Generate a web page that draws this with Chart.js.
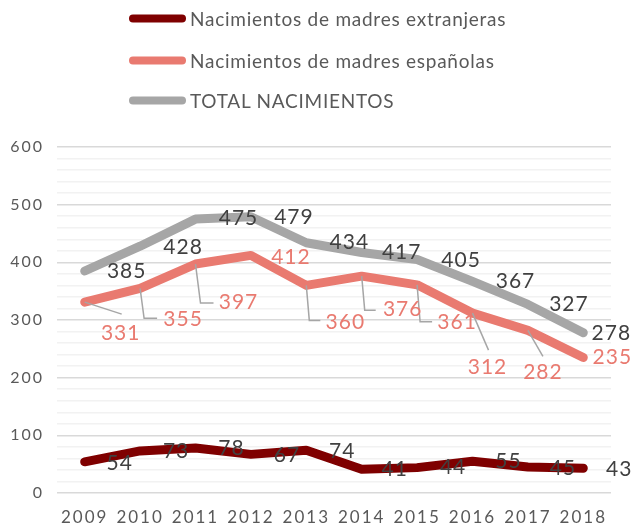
<!DOCTYPE html>
<html>
<head>
<meta charset="utf-8">
<script src="https://cdn.jsdelivr.net/npm/chart.js@4"></script>
<style>
  html, body { margin: 0; padding: 0; background: #fff; }
  #wrap { position: relative; width: 635px; height: 526px; }
  #legend { position: absolute; left: 129px; top: 0; font-family: 'Lato', sans-serif; font-size: 19px; letter-spacing: 0.75px; color: #595959; }
  .item { position: absolute; left: 0; display: flex; align-items: center; white-space: nowrap; transform: translateY(-50%); }
  .swatch { width: 57px; height: 8px; border-radius: 4px; margin-right: 4px; }
</style>
</head>
<body>
<div id="wrap">
  <canvas id="chart" width="635" height="526"></canvas>
  <div id="legend"></div>
</div>
<script>
// data
const years = ['2009', '2010', '2011', '2012', '2013', '2014', '2015', '2016', '2017', '2018'];
const extranjeras = [54, 73, 78, 67, 74, 41, 44, 55, 45, 43];
const espanolas = [331, 355, 397, 412, 360, 376, 361, 312, 282, 235];
const total = [385, 428, 475, 479, 434, 417, 405, 367, 327, 278];

const seriesNames = ['Nacimientos de madres extranjeras', 'Nacimientos de madres españolas', 'TOTAL NACIMIENTOS'];
const seriesColors = ['#7f0000', '#e97a70', '#a6a6a6'];
const labelColors = ['#404040', '#e97a70', '#404040'];

// label placement, offsets from the point in px
const labelOffsets = [
  [[35, 1], [36, 0], [36, 0], [36, 1], [36, 1], [33, 0], [36, 0], [36, 0], [35, 1], [36, 1]],
  [[36, 31], [43, 31], [43, 38], [40, 2], [39, 37], [41, 33], [40, 37], [15, 54], [15, 42], [29, 0]],
  [[42, 0], [43, 1], [43, -1], [43, 0], [43, 0], [40, 0], [44, 1], [43, 0], [41, 0], [28, 1]]
];
// leader lines for the spanish series (relative polyline from the point)
const leaders = [
  [[0, 0], [37, 12]],
  [[0, 0], [4, 30], [17, 30]],
  [[0, 0], [5, 39], [18, 39]],
  null,
  [[0, 0], [3, 35], [14, 35]],
  [[0, 0], [3, 34], [14, 34]],
  [[0, 0], [3, 37], [15, 37]],
  [[0, 0], [16, 37]],
  [[0, 0], [15, 26]],
  null
];

const FONT = 'Lato';

// wider tracking like the original typeface
const spacing = {
  id: 'spacing',
  beforeDraw(chart) { chart.ctx.letterSpacing = '2px'; }
};

const valueLabels = {
  id: 'valueLabels',
  afterDatasetsDraw(chart) {
    const ctx = chart.ctx;
    ctx.save();
    // leaders first
    const metaEs = chart.getDatasetMeta(1);
    ctx.strokeStyle = '#a6a6a6';
    ctx.lineWidth = 1.5;
    leaders.forEach((l, i) => {
      if (!l) return;
      const p = metaEs.data[i];
      ctx.beginPath();
      l.forEach(([dx, dy], k) => {
        if (k === 0) ctx.moveTo(p.x + dx, p.y + dy);
        else ctx.lineTo(p.x + dx, p.y + dy);
      });
      ctx.stroke();
    });
    ctx.letterSpacing = '1px';
    ctx.font = '21px ' + FONT;
    ctx.textAlign = 'center';
    ctx.textBaseline = 'middle';
    chart.data.datasets.forEach((ds, di) => {
      const meta = chart.getDatasetMeta(di);
      ctx.fillStyle = labelColors[di];
      meta.data.forEach((p, i) => {
        const [dx, dy] = labelOffsets[di][i];
        ctx.fillText(String(ds.data[i]), p.x + dx, p.y + dy);
      });
    });
    ctx.restore();
  }
};

const datasets = [extranjeras, espanolas, total].map((vals, i) => ({
  label: seriesNames[i],
  data: vals,
  borderColor: seriesColors[i],
  backgroundColor: seriesColors[i],
  borderWidth: 9,
  borderCapStyle: 'round',
  borderJoinStyle: 'round',
  pointRadius: 0,
  tension: 0,
  fill: false
}));

// html legend, one per row
const legendEl = document.getElementById('legend');
const legendY = [18, 60, 100];
seriesNames.forEach((name, i) => {
  const row = document.createElement('div');
  row.className = 'item';
  row.style.top = legendY[i] + 'px';
  row.innerHTML = '<span class="swatch" style="background:' + seriesColors[i] + '"></span><span>' + name + '</span>';
  legendEl.appendChild(row);
});

new Chart(document.getElementById('chart').getContext('2d'), {
  type: 'line',
  data: { labels: years, datasets: datasets },
  plugins: [spacing, valueLabels],
  options: {
    responsive: false,
    animation: false,
    layout: { padding: { top: 147, right: 24, left: 0, bottom: 0 } },
    plugins: {
      legend: { display: false },
      tooltip: { enabled: false }
    },
    scales: {
      x: {
        offset: true,
        grid: { display: false },
        border: { display: false },
        ticks: { color: '#595959', font: { family: FONT, size: 17 }, padding: 6, maxRotation: 0 },
        afterFit(s) { s.height = 33; }
      },
      y: {
        min: 0,
        max: 600,
        border: { display: false },
        grid: {
          drawTicks: false,
          lineWidth: 1.5,
          color: c => (c.tick && c.tick.value % 100 === 0) ? '#d9d9d9' : '#f2f2f2'
        },
        ticks: {
          stepSize: 20,
          autoSkip: false,
          color: '#595959',
          font: { family: FONT, size: 16 },
          padding: 13,
          callback: v => (v % 100 === 0 ? v : '')
        },
        afterFit(s) { s.width = 57; }
      }
    }
  }
});
</script>
</body>
</html>
